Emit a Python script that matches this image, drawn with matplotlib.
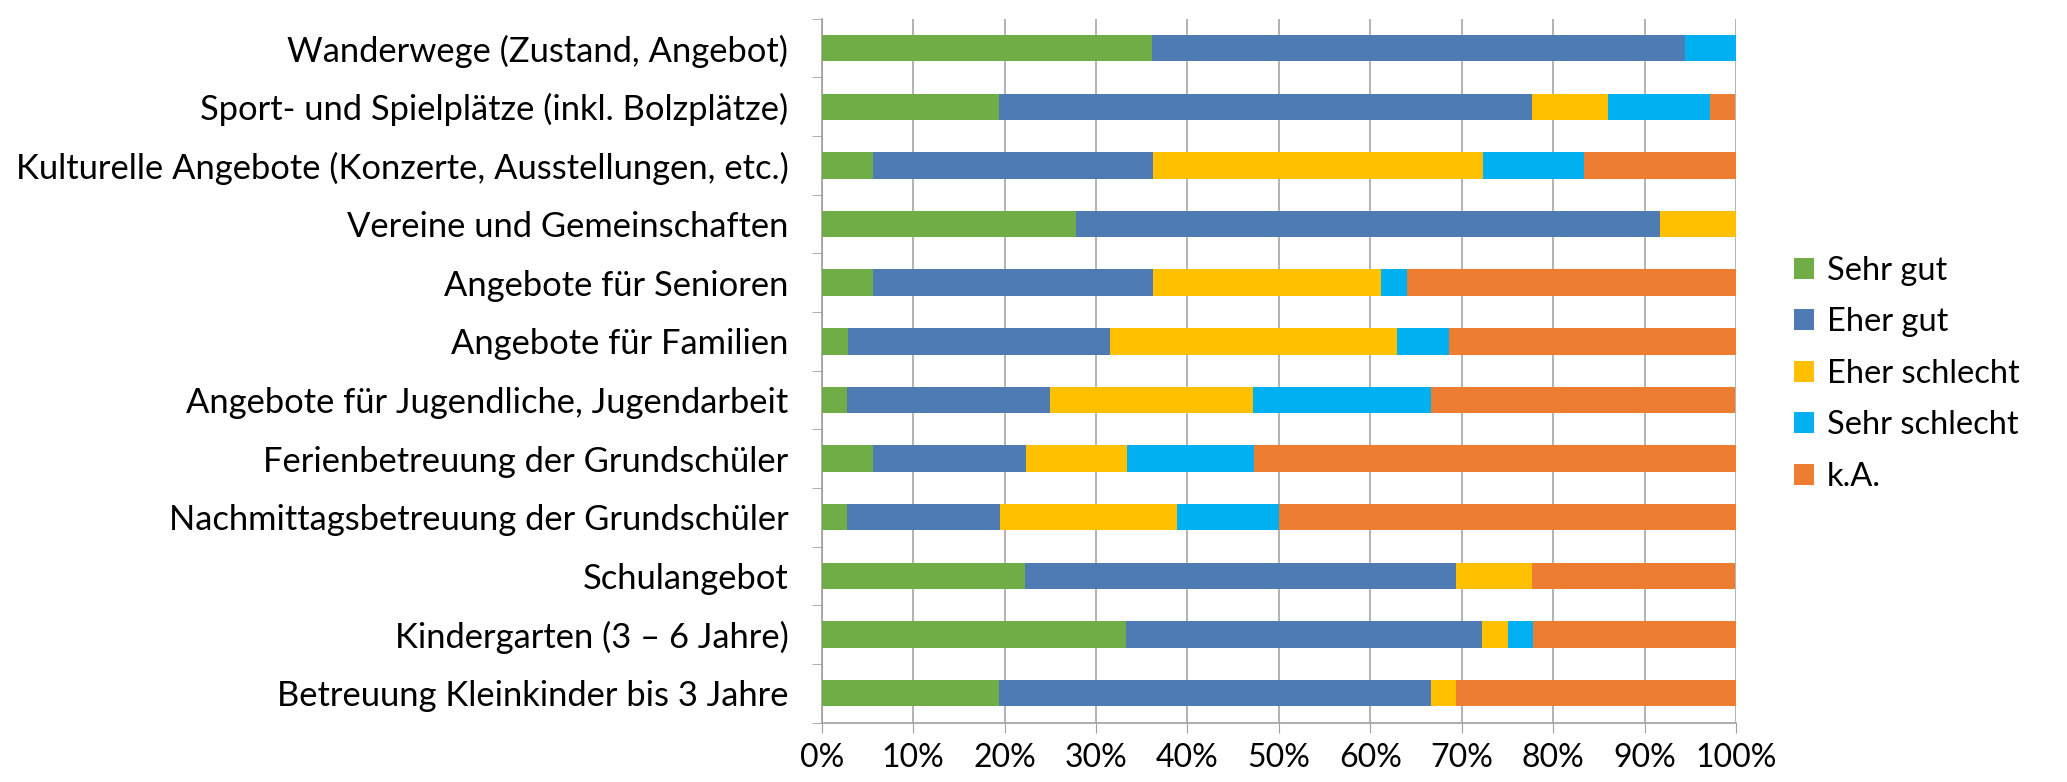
import matplotlib
matplotlib.use("Agg")
import matplotlib.pyplot as plt
import numpy as np

categories = [
    "Wanderwege (Zustand, Angebot)",
    "Sport- und Spielplätze (inkl. Bolzplätze)",
    "Kulturelle Angebote (Konzerte, Ausstellungen, etc.)",
    "Vereine und Gemeinschaften",
    "Angebote für Senioren",
    "Angebote für Familien",
    "Angebote für Jugendliche, Jugendarbeit",
    "Ferienbetreuung der Grundschüler",
    "Nachmittagsbetreuung der Grundschüler",
    "Schulangebot",
    "Kindergarten (3 – 6 Jahre)",
    "Betreuung Kleinkinder bis 3 Jahre",
]
series_names = ["Sehr gut", "Eher gut", "Eher schlecht", "Sehr schlecht", "k.A."]
sehr_gut      = [36.1, 19.4,  5.6, 27.8,  5.6,  2.9,  2.8,  5.6,  2.8, 22.2, 33.3, 19.4]
eher_gut      = [58.3, 58.3, 30.6, 63.9, 30.6, 28.6, 22.2, 16.7, 16.7, 47.2, 38.9, 47.2]
eher_schlecht = [ 0.0,  8.3, 36.1,  8.3, 25.0, 31.4, 22.2, 11.1, 19.4,  8.3,  2.8,  2.8]
sehr_schlecht = [ 5.6, 11.1, 11.1,  0.0,  2.8,  5.7, 19.4, 13.9, 11.1,  0.0,  2.8,  0.0]
keine_angabe  = [ 0.0,  2.8, 16.7,  0.0, 36.1, 31.4, 33.3, 52.8, 50.0, 22.2, 22.2, 30.6]
colors = ["#70AD47", "#4F7BB5", "#FFC000", "#00B0F0", "#ED7D31"]

plt.rcParams['font.family'] = ['Lato', 'DejaVu Sans']

fig = plt.figure(figsize=(20.67, 7.82), dpi=100)
ax = fig.add_axes([0.3975, 0.076, 0.4425, 0.90])

data = [sehr_gut, eher_gut, eher_schlecht, sehr_schlecht, keine_angabe]
y = np.arange(len(categories))
left = np.zeros(len(categories))
for vals, name, c in zip(data, series_names, colors):
    vals = np.array(vals, dtype=float)
    ax.barh(y, vals, left=left, height=0.45, color=c, label=name, zorder=3, linewidth=0)
    left += vals

ax.set_xlim(0, 100)
ax.set_ylim(len(categories) - 0.5, -0.5)
ax.set_xticks(np.arange(0, 101, 10))
ax.set_xticklabels([f"{v}%" for v in range(0, 101, 10)], fontsize=23)
ax.set_yticks(y)
ax.set_yticklabels(categories, fontsize=24.8)
ax.tick_params(axis='y', length=0, pad=24)
ax.tick_params(axis='x', length=7, color="#A0A0A0", pad=8)
ax.set_yticks(np.arange(-0.5, len(categories), 1), minor=True)
ax.tick_params(axis='y', which='minor', length=7, color="#A0A0A0")
ax.grid(axis='x', color="#A6A6A6", linewidth=1.2, zorder=0)
for s in ["top", "right"]:
    ax.spines[s].set_visible(False)
for s in ["left", "bottom"]:
    ax.spines[s].set_color("#A0A0A0")
    ax.spines[s].set_linewidth(1.2)

handles, labels = ax.get_legend_handles_labels()
leg = fig.legend(handles, labels, loc="center left", bbox_to_anchor=(0.868, 0.522),
                 frameon=False, fontsize=23.5, handlelength=0.6, handleheight=0.6,
                 labelspacing=0.66, handletextpad=0.4, borderaxespad=0, borderpad=0)

fig.savefig("out.png", dpi=100)
